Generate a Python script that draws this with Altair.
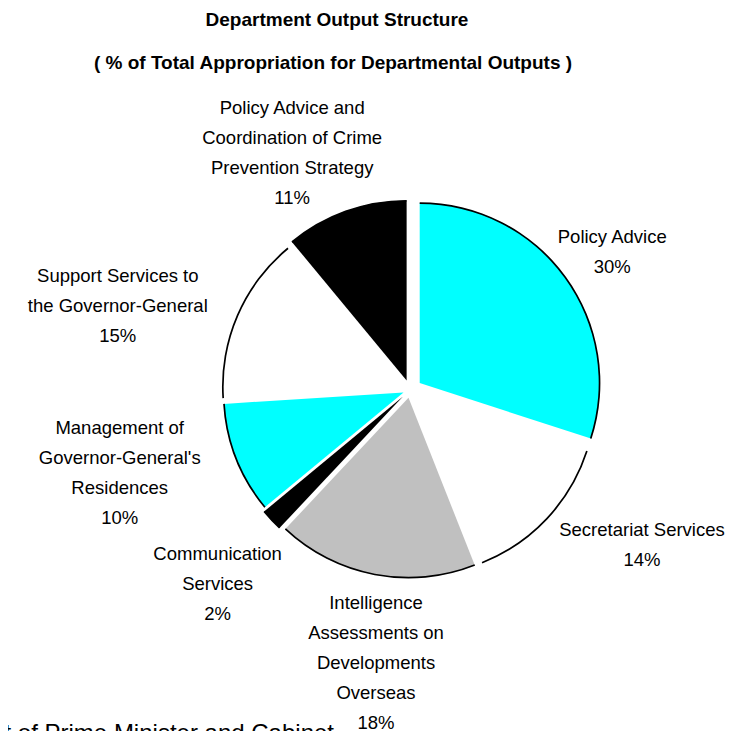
import altair as alt
import pandas as pd

# ---- data ----
categories = [
    "Policy Advice",
    "Secretariat Services",
    "Intelligence Assessments on Developments Overseas",
    "Communication Services",
    "Management of Governor-General's Residences",
    "Support Services to the Governor-General",
    "Policy Advice and Coordination of Crime Prevention Strategy",
]
label_lines = [
    "Policy Advice\n30%",
    "Secretariat Services\n14%",
    "Intelligence\nAssessments on\nDevelopments\nOverseas\n18%",
    "Communication\nServices\n2%",
    "Management of\nGovernor-General's\nResidences\n10%",
    "Support Services to\nthe Governor-General\n15%",
    "Policy Advice and\nCoordination of Crime\nPrevention Strategy\n11%",
]
shares = [30, 14, 18, 2, 10, 15, 11]

title_1 = "Department Output Structure"
title_2 = "( % of Total Appropriation for Departmental Outputs )"
footer = "Department of Prime Minister and Cabinet"

# ---- styles ----
fills = ["#00FFFF", "#FFFFFF", "#C0C0C0", "#000000", "#00FFFF", "#FFFFFF", "#000000"]
explode = [12, 8, 8, 10, 7, 8, 10]
label_radius = [245, 279, 275, 273, 302, 304, 265]
label_nudge = [1.65, -9.45, -3.7, -2.0, 5.6, -7.4, -6.6]  # degrees
CX, CY, R = 402, 382, 180
LH = 30
FONT = "Liberation Sans"

df = pd.DataFrame({
    "category": categories,
    "label": label_lines,
    "share": shares,
    "order": list(range(len(shares))),
    "fill": fills,
    "explode": explode,
    "lr": label_radius,
    "nudge": label_nudge,
})

base = alt.Chart(df).transform_joinaggregate(
    total="sum(share)"
).transform_window(
    cum="sum(share)", sort=[alt.SortField("order")], frame=[None, 0]
).transform_calculate(
    a0="2*PI*(datum.cum - datum.share)/datum.total",
    a1="2*PI*datum.cum/datum.total",
    nl="length(split(datum.label, '\\n'))",
).transform_calculate(
    mid="(datum.a0 + datum.a1)/2",
).transform_calculate(
    cx=f"{CX} + datum.explode*sin(datum.mid)",
    cy=f"{CY} - datum.explode*cos(datum.mid)",
    la="datum.mid + datum.nudge*PI/180",
).transform_calculate(
    lx=f"{CX} + datum.lr*sin(datum.la)",
    ly=f"{CY} - datum.lr*cos(datum.la) - (datum.nl - 1)*{LH}/2",
)

slices = base.mark_arc(radius=R).encode(
    theta=alt.Theta("a0:Q", scale=None),
    theta2="a1:Q",
    x=alt.X("cx:Q", scale=None),
    y=alt.Y("cy:Q", scale=None),
    fill=alt.Fill("fill:N", scale=None),
)

rims = base.mark_arc(radius=R + 0.7, radius2=R - 1.0, color="#000000").encode(
    theta=alt.Theta("a0:Q", scale=None),
    theta2="a1:Q",
    x=alt.X("cx:Q", scale=None),
    y=alt.Y("cy:Q", scale=None),
)

labels = base.mark_text(
    font=FONT, fontSize=18.5, lineBreak="\n", lineHeight=LH,
    align="center", baseline="middle", color="#000000",
).encode(
    x=alt.X("lx:Q", scale=None),
    y=alt.Y("ly:Q", scale=None),
    text="label:N",
)

tdf = pd.DataFrame({"t": [title_1, title_2, footer], "k": [0, 1, 2]})
t1 = alt.Chart(tdf).transform_filter("datum.k == 0").mark_text(
    font=FONT, fontSize=19, fontWeight="bold", align="center", baseline="middle"
).encode(text="t:N", x=alt.value(329), y=alt.value(12))
t2 = alt.Chart(tdf).transform_filter("datum.k == 1").mark_text(
    font=FONT, fontSize=19, fontWeight="bold", align="center", baseline="middle"
).encode(text="t:N", x=alt.value(325), y=alt.value(55))
t3 = alt.Chart(tdf).transform_filter("datum.k == 2").mark_text(
    font=FONT, fontSize=24, align="right", baseline="alphabetic"
).encode(text="t:N", x=alt.value(326), y=alt.value(733))

chart = alt.layer(slices, rims, labels, t1, t2, t3).properties(
    width=718, height=740, padding=0, autosize=alt.AutoSizeParams(type="none"),
    background="#FFFFFF",
).configure_view(stroke=None)

chart.save("out.html", embed_options={"renderer": "svg", "actions": False})
